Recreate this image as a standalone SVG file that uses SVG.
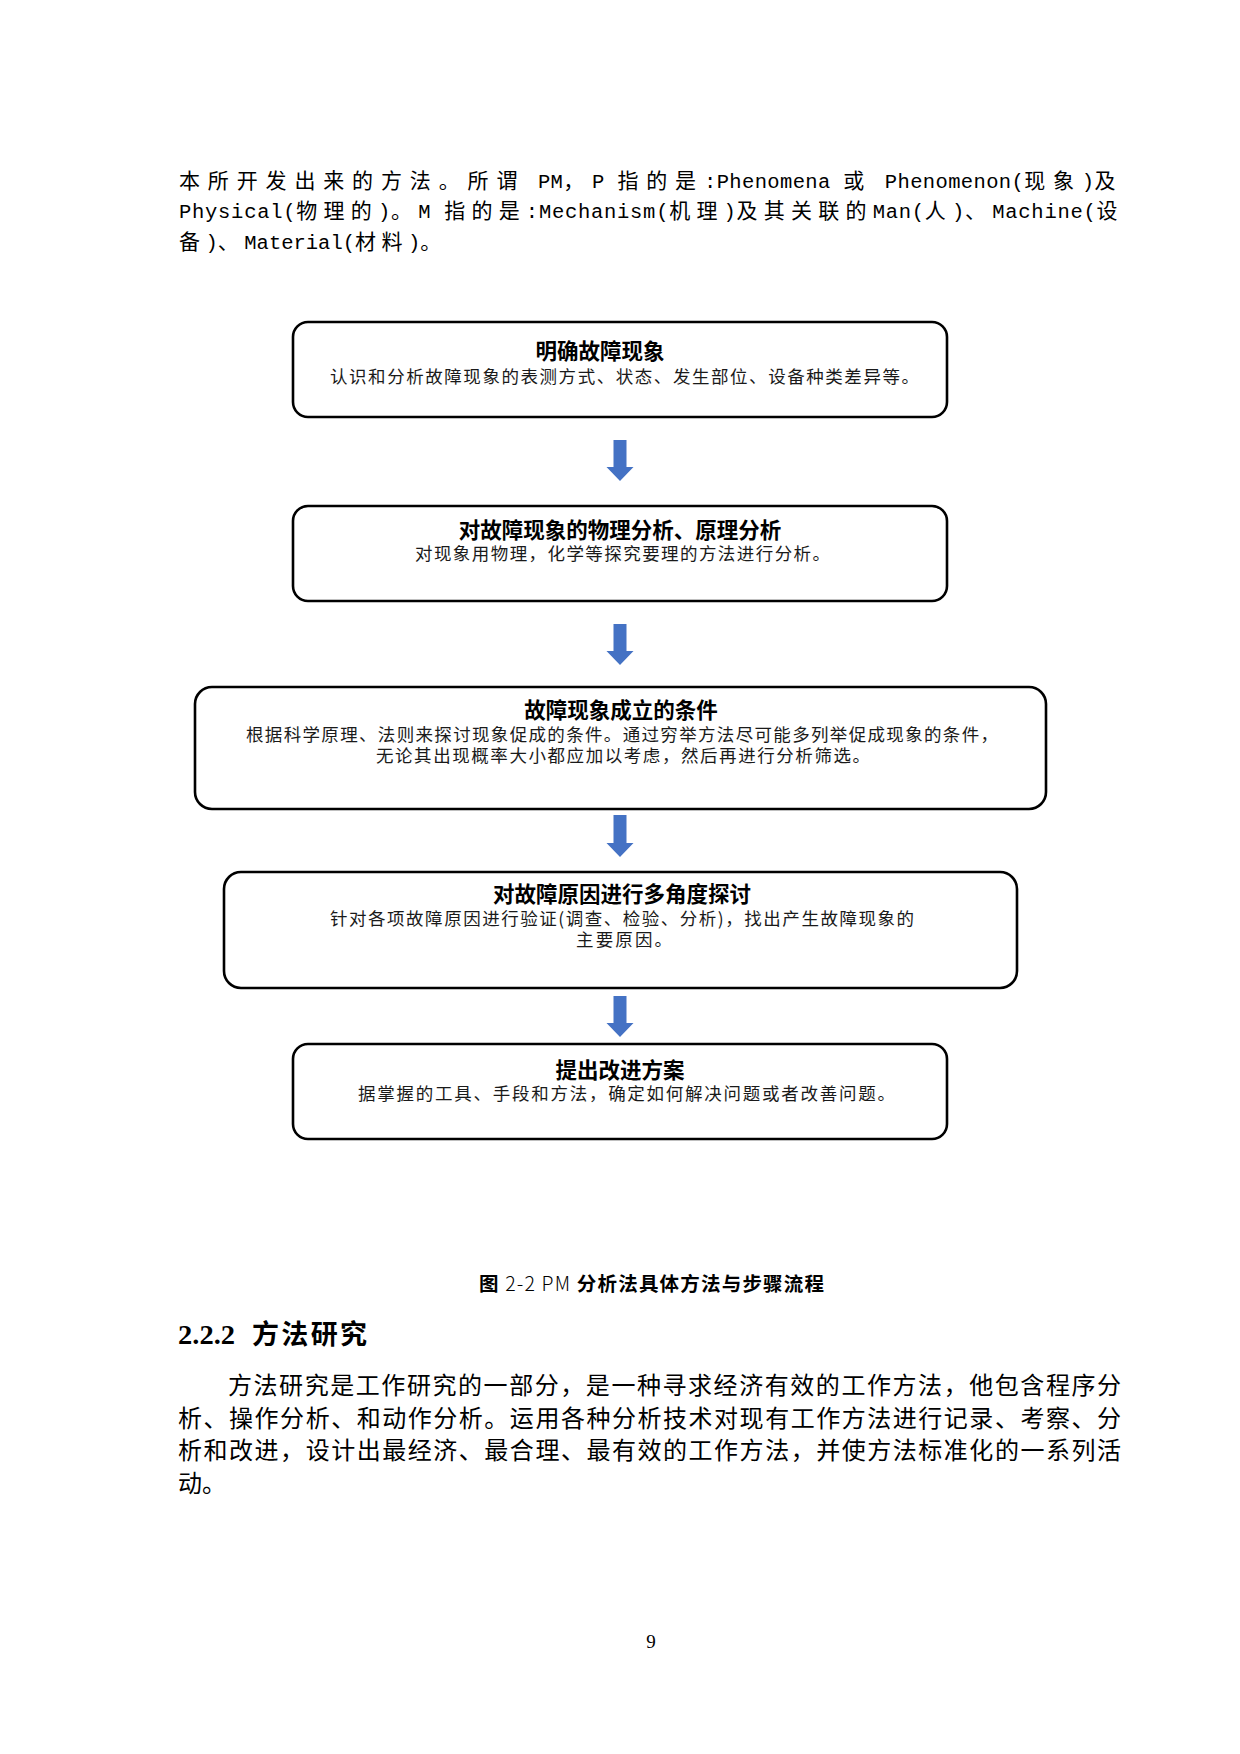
<svg xmlns="http://www.w3.org/2000/svg" width="1240" height="1754" viewBox="0 0 1240 1754">
<style>
  .bg{fill:#ffffff}
  .box{fill:#ffffff;stroke:#000000;stroke-width:2.6}
  .arrow{fill:#4472C4;stroke:none}
  .title{font-family:"Noto Sans CJK SC","Liberation Sans",sans-serif;font-weight:bold;font-size:21.5px;fill:#000;text-anchor:middle}
  .sub{font-family:"Noto Sans CJK SC","Liberation Sans",sans-serif;font-size:17.5px;fill:#1a1a1a}
  .para{font-family:"Liberation Mono","Noto Sans CJK SC",monospace;font-size:20.5px;fill:#000}
  .cj{font-family:"Noto Sans CJK SC",sans-serif;font-size:21px;letter-spacing:7.5px}
  .cj2{font-family:"Noto Sans CJK SC",sans-serif;font-size:21px;letter-spacing:5.5px}
  .body{font-family:"Noto Sans CJK SC","Liberation Serif",serif;font-size:24px;fill:#000}
  .cap{font-family:"Noto Sans CJK SC","Liberation Sans",sans-serif;font-size:19.5px;fill:#000}
  .capn{font-weight:300}
  .capb{font-weight:bold}
</style>
<rect class="bg" x="0" y="0" width="1240" height="1754"/>

<g id="top-paragraph">
  <text class="para" x="179" y="188" textLength="944" lengthAdjust="spacing"><tspan class="cj">本所开发出来的方法。所谓</tspan> PM<tspan class="cj">，</tspan>P <tspan class="cj">指的是</tspan>:Phenomena <tspan class="cj">或</tspan> Phenomenon(<tspan class="cj">现象</tspan>)<tspan class="cj">及</tspan></text>
  <text class="para" x="179" y="218" textLength="944" lengthAdjust="spacing">Physical(<tspan class="cj2">物理的</tspan>)<tspan class="cj2">。</tspan>M <tspan class="cj2">指的是</tspan>:Mechanism(<tspan class="cj2">机理</tspan>)<tspan class="cj2">及其关联的</tspan>Man(<tspan class="cj2">人</tspan>)<tspan class="cj2">、</tspan>Machine(<tspan class="cj2">设</tspan></text>
  <text class="para" x="179" y="249"><tspan class="cj2">备</tspan>)<tspan class="cj2">、</tspan>Material(<tspan class="cj2">材料</tspan>)<tspan class="cj2">。</tspan></text>
</g>

<g id="connectors">
  <path class="arrow" d="M613.5,440 h13 v27 h7 l-13.5,14 l-13.5,-14 h7 z"/>
  <path class="arrow" d="M613.5,624 h13 v27 h7 l-13.5,14 l-13.5,-14 h7 z"/>
  <path class="arrow" d="M613.5,815 h13 v28 h7 l-13.5,14 l-13.5,-14 h7 z"/>
  <path class="arrow" d="M613.5,996 h13 v27 h7 l-13.5,14 l-13.5,-14 h7 z"/>
</g>

<g id="node1">
  <rect class="box" x="293" y="322" width="654" height="95" rx="15" ry="15"/>
  <text class="title" x="600" y="359">明确故障现象</text>
  <text class="sub" x="330" y="383" textLength="589" lengthAdjust="spacing">认识和分析故障现象的表测方式、状态、发生部位、设备种类差异等。</text>
</g>

<g id="node2">
  <rect class="box" x="293" y="506" width="654" height="95" rx="15" ry="15"/>
  <text class="title" x="620" y="538">对故障现象的物理分析、原理分析</text>
  <text class="sub" x="415" y="560" textLength="415" lengthAdjust="spacing">对现象用物理，化学等探究要理的方法进行分析。</text>
</g>

<g id="node3">
  <rect class="box" x="195" y="687" width="851" height="122" rx="17" ry="17"/>
  <text class="title" x="621" y="718">故障现象成立的条件</text>
  <text class="sub" x="246" y="741" textLength="752" lengthAdjust="spacing">根据科学原理、法则来探讨现象促成的条件。通过穷举方法尽可能多列举促成现象的条件，</text>
  <text class="sub" x="376" y="762" textLength="494" lengthAdjust="spacing">无论其出现概率大小都应加以考虑，然后再进行分析筛选。</text>
</g>

<g id="node4">
  <rect class="box" x="224" y="872" width="793" height="116" rx="17" ry="17"/>
  <text class="title" x="622" y="902">对故障原因进行多角度探讨</text>
  <text class="sub" x="330" y="925" textLength="584" lengthAdjust="spacing">针对各项故障原因进行验证(调查、检验、分析)，找出产生故障现象的</text>
  <text class="sub" x="576" y="946" textLength="96" lengthAdjust="spacing">主要原因。</text>
</g>

<g id="node5">
  <rect class="box" x="293" y="1044" width="654" height="95" rx="15" ry="15"/>
  <text class="title" x="620" y="1078">提出改进方案</text>
  <text class="sub" x="358" y="1100" textLength="537" lengthAdjust="spacing">据掌握的工具、手段和方法，确定如何解决问题或者改善问题。</text>
</g>

<g id="caption">
  <text class="cap" x="479" y="1291" textLength="345" lengthAdjust="spacing"><tspan class="capb">图</tspan><tspan class="capn"> 2-2 PM </tspan><tspan class="capb">分析法具体方法与步骤流程</tspan></text>
</g>

<g id="heading">
  <text x="178" y="1344" font-family="Liberation Serif, serif" font-weight="bold" font-size="27" textLength="57" lengthAdjust="spacingAndGlyphs">2.2.2</text>
  <text x="252" y="1344" font-family="Noto Sans CJK SC, sans-serif" font-weight="bold" font-size="27" textLength="115" lengthAdjust="spacing">方法研究</text>
</g>

<g id="body-paragraph">
  <text class="body" x="228" y="1394" textLength="893" lengthAdjust="spacing">方法研究是工作研究的一部分，是一种寻求经济有效的工作方法，他包含程序分</text>
  <text class="body" x="178" y="1426.5" textLength="943" lengthAdjust="spacing">析、操作分析、和动作分析。运用各种分析技术对现有工作方法进行记录、考察、分</text>
  <text class="body" x="178" y="1459" textLength="943" lengthAdjust="spacing">析和改进，设计出最经济、最合理、最有效的工作方法，并使方法标准化的一系列活</text>
  <text class="body" x="178" y="1491.5">动。</text>
</g>

<g id="page-number">
  <text x="651" y="1648" font-family="Liberation Serif, serif" font-size="19" text-anchor="middle">9</text>
</g>
</svg>
